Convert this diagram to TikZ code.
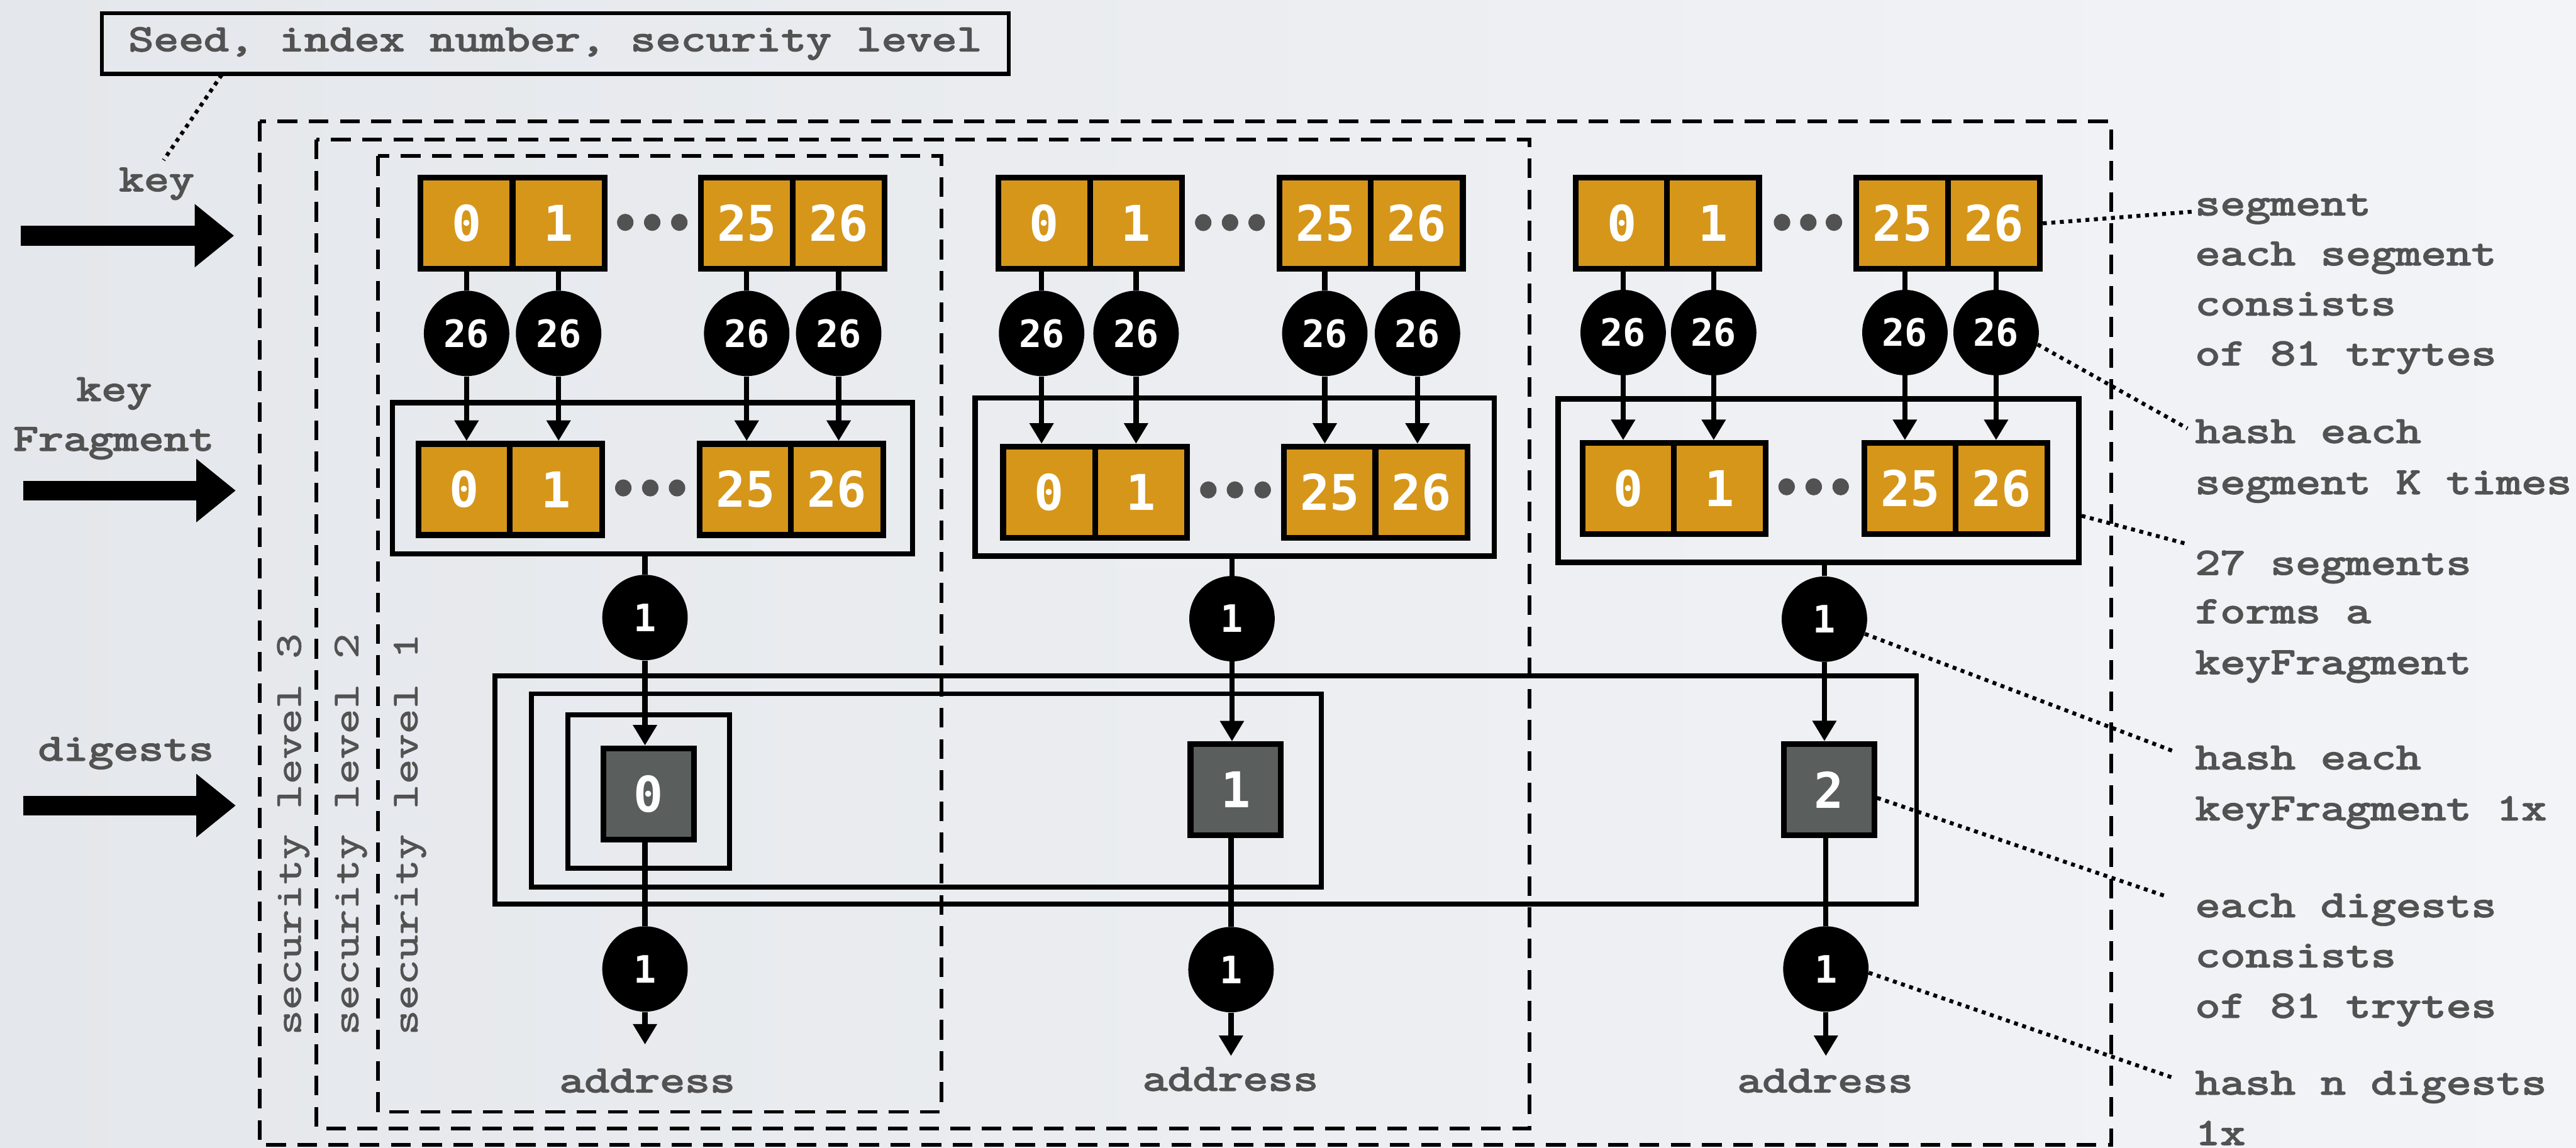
\documentclass[tikz,border=0pt]{standalone}
\usepackage{fontspec}
\usetikzlibrary{arrows.meta}
\newfontfamily\labfont[FakeStretch=1.29,FakeBold=3.4]{Latin Modern Mono}
\newfontfamily\regfont[FakeStretch=1.29,FakeBold=1.6]{Latin Modern Mono}
\newfontfamily\digfont{DejaVu Sans Mono}
\definecolor{bgL}{RGB}{228,231,235}
\definecolor{bgR}{RGB}{243,244,247}
\definecolor{segorange}{RGB}{214,150,26}
\definecolor{digray}{RGB}{90,94,92}
\definecolor{txtgray}{RGB}{82,82,82}
\tikzset{
  segbox/.style={draw=black, line width=3.5pt, fill=segorange, minimum width=56pt, minimum height=55.5pt, inner sep=0pt, text=white, font=\digfont\bfseries\fontsize{30}{30}\selectfont},
  hc/.style={circle, fill=black, minimum size=52pt, inner sep=0pt, text=white, font=\digfont\bfseries\fontsize{23}{23}\selectfont},
  conn/.style={line width=3.2pt},
  arr/.style={line width=3.2pt, -{Triangle[width=14pt,length=12.5pt]}},
  dgbox/.style={draw=black, line width=3.5pt, fill=digray, minimum width=55pt, minimum height=55.5pt, inner sep=0pt, text=white, font=\digfont\bfseries\fontsize{30}{30}\selectfont},
  kfbox/.style={draw=black, line width=3.3pt, inner sep=0pt},
  solidframe/.style={draw=black, line width=3pt},
  dashframe/.style={draw=black, line width=2.2pt, dash pattern=on 12pt off 7pt},
  leader/.style={line width=2.4pt, dash pattern=on 2.4pt off 2.8pt},
  lab/.style={text=txtgray, font=\labfont\fontsize{23}{28}\selectfont, inner sep=0pt},
  labreg/.style={text=txtgray, font=\regfont\fontsize{23}{28}\selectfont, inner sep=0pt},
  bigarrow/.style={line width=12pt, -{Triangle[width=37pt,length=24pt]}},
  dotfill/.style={fill=txtgray}
}
\begin{document}
\begin{tikzpicture}[x=1pt,y=-1pt]
\useasboundingbox (0,0) rectangle (1568,699);
\shade[left color=bgL, right color=bgR] (0,0) rectangle (1568,699);

% dashed security frames
\draw[dashframe] (158,74) rectangle (1285,697);
\draw[dashframe] (192.5,85) rectangle (931,687);
\draw[dashframe] (230,95) rectangle (573,677);

% nested digest frames
\draw[solidframe] (301.4,411.4) rectangle (1166.6,550.6);
\draw[solidframe] (323.4,422.4) rectangle (804.3,540.2);
\draw[solidframe] (345.8,435.2) rectangle (444,528.6);

% top label box
\node[lab, draw=black, line width=2.5pt, minimum width=552pt, minimum height=37pt] (sbox) at (338,26.5) {Seed, index number, security level};

% left labels and arrows
\node[lab, anchor=base] (lkey) at (95.3,116.3) {key};
\node[lab, anchor=base] (lkf1) at (69.4,244) {key};
\node[lab, anchor=base] (lkf2) at (69.2,274.3) {Fragment};
\node[lab, anchor=base] (ldig) at (76.7,463) {digests};
\coordinate (a1s) at (12.5,143.5); \coordinate (a1e) at (142.5,143.5);
\coordinate (a2s) at (14,298.7); \coordinate (a2e) at (143.5,298.7);
\coordinate (a3s) at (14,490.5); \coordinate (a3e) at (143.5,490.5);
\draw[bigarrow] (a1s) -- (a1e);
\draw[bigarrow] (a2s) -- (a2e);
\draw[bigarrow] (a3s) -- (a3e);

% vertical security labels
\node[labreg, rotate=90] (sl3) at (178.5,508) {security level 3};
\node[labreg, rotate=90] (sl2) at (213.5,508) {security level 2};
\node[labreg, rotate=90] (sl1) at (249.5,508) {security level 1};

% ---------- column 1 ----------
\node[segbox] (t1a) at (284,136) {0};
\node[segbox] (t1b) at (340,136) {1};
\node[segbox] (t1c) at (454.5,136) {25};
\node[segbox] (t1d) at (510.5,136) {26};
\foreach \xx in {380.6,397,413.5} \fill[dotfill] (\xx,135.4) ellipse (5pt and 5.2pt);
\node[hc] (h1a) at (284,203) {26};
\node[hc] (h1b) at (340,203) {26};
\node[hc] (h1c) at (454.5,203) {26};
\node[hc] (h1d) at (510.5,203) {26};
\node[kfbox, minimum width=316.6pt, minimum height=92.2pt] (kf1) at (397.2,291.2) {};
\node[segbox] (l1a) at (282.6,298) {0};
\node[segbox] (l1b) at (338.4,298) {1};
\node[segbox] (l1c) at (453.8,298) {25};
\node[segbox] (l1d) at (509.5,298) {26};
\foreach \xx in {379.4,395.8,412.1} \fill[dotfill] (\xx,297.1) ellipse (5pt and 5.2pt);
\node[hc] (u1) at (392.6,376) {1};
\node[dgbox] (dg1) at (394.8,483.4) {0};
\node[hc] (w1) at (392.6,590) {1};
\coordinate (e1) at (392.6,636);
\node[lab, anchor=base] (ad1) at (394,665) {address};

% ---------- column 2 ----------
\node[segbox] (t2a) at (635.6,136) {0};
\node[segbox] (t2b) at (691.5,136) {1};
\node[segbox] (t2c) at (806.7,136) {25};
\node[segbox] (t2d) at (862.4,136) {26};
\foreach \xx in {732.4,748.7,764.9} \fill[dotfill] (\xx,135.5) ellipse (5pt and 5.2pt);
\node[hc] (h2a) at (634,203) {26};
\node[hc] (h2b) at (691.5,203) {26};
\node[hc] (h2c) at (806.4,203) {26};
\node[hc] (h2d) at (862.8,203) {26};
\node[kfbox, minimum width=316pt, minimum height=96.4pt] (kf2) at (751.5,290.5) {};
\node[segbox] (l2a) at (638.6,299.7) {0};
\node[segbox] (l2b) at (694.5,299.7) {1};
\node[segbox] (l2c) at (809.5,299.7) {25};
\node[segbox] (l2d) at (865.2,299.7) {26};
\foreach \xx in {735.5,751.7,768.6} \fill[dotfill] (\xx,298.3) ellipse (5pt and 5.2pt);
\node[hc] (u2) at (749.9,376.7) {1};
\node[dgbox] (dg2) at (752.15,480.9) {1};
\node[hc] (w2) at (749.3,590.4) {1};
\coordinate (e2) at (749.3,643);
\node[lab, anchor=base] (ad2) at (749,664) {address};

% ---------- column 3 ----------
\node[segbox] (t3a) at (987.2,136) {0};
\node[segbox] (t3b) at (1042.7,136) {1};
\node[segbox] (t3c) at (1158,136) {25};
\node[segbox] (t3d) at (1213.7,136) {26};
\foreach \xx in {1084.7,1100.7,1116.3} \fill[dotfill] (\xx,135.4) ellipse (5pt and 5.2pt);
\node[hc] (h3a) at (988,202.5) {26};
\node[hc] (h3b) at (1043.1,202.5) {26};
\node[hc] (h3c) at (1159.5,202.5) {26};
\node[hc] (h3d) at (1215,202.5) {26};
\node[kfbox, minimum width=317pt, minimum height=99.5pt] (kf3) at (1106.9,292.65) {};
\node[segbox] (l3a) at (991.3,297.5) {0};
\node[segbox] (l3b) at (1046.8,297.5) {1};
\node[segbox] (l3c) at (1162.7,297.5) {25};
\node[segbox] (l3d) at (1218.3,297.5) {26};
\foreach \xx in {1087.5,1104,1120.4} \fill[dotfill] (\xx,296.4) ellipse (5pt and 5.2pt);
\node[hc] (u3) at (1110.5,377) {1};
\node[dgbox] (dg3) at (1113.3,480.8) {2};
\node[hc] (w3) at (1111.4,590) {1};
\coordinate (e3) at (1111.4,643);
\node[lab, anchor=base] (ad3) at (1111,665) {address};

% connectors
\foreach \c in {1,2,3}{
  \foreach \k in {a,b,c,d}{
    \draw[conn] (h\c\k |- t\c\k.south) -- (h\c\k);
    \draw[arr] (h\c\k) -- (h\c\k |- l\c\k.north);
  }
  \draw[conn] (u\c |- kf\c.south) -- (u\c);
  \draw[arr] (u\c) -- (u\c |- dg\c.north);
  \draw[conn] (w\c |- dg\c.south) -- (w\c);
  \draw[arr] (w\c) -- (e\c);
}

% right annotations
\node[lab, anchor=base west] (r1a) at (1336,131) {segment};
\node[lab, anchor=base west] (r1b) at (1336,161.4) {each segment};
\node[lab, anchor=base west] (r1c) at (1336,191.9) {consists};
\node[lab, anchor=base west] (r1d) at (1336,222.3) {of 81 trytes};
\node[lab, anchor=base west] (r2a) at (1336,269.6) {hash each};
\node[lab, anchor=base west] (r2b) at (1336,300.7) {segment K times};
\node[lab, anchor=base west] (r3a) at (1336,349.8) {27 segments};
\node[lab, anchor=base west] (r3b) at (1336,379.3) {forms a};
\node[lab, anchor=base west] (r3c) at (1336,410.3) {keyFragment};
\node[lab, anchor=base west] (r4a) at (1336,468.3) {hash each};
\node[lab, anchor=base west] (r4b) at (1336,499.3) {keyFragment 1x};
\node[lab, anchor=base west] (r5a) at (1336,558.3) {each digests};
\node[lab, anchor=base west] (r5b) at (1336,588.8) {consists};
\node[lab, anchor=base west] (r5c) at (1336,619.5) {of 81 trytes};
\node[lab, anchor=base west] (r6a) at (1336,666.3) {hash n digests};
\node[lab, anchor=base west] (r6b) at (1336,697) {1x};

% leaders
\coordinate (lkA) at (135,45.5);
\coordinate (lkB) at (99.6,97.5);
\draw[leader] (lkA) -- (lkB);
\coordinate (q1) at (1334.4,128.9);
\draw[leader] (t3d.east) -- (q1);
\coordinate (q2) at (1331.5,260.9);
\draw[leader] (h3d.-16) -- (q2);
\coordinate (q3) at (1331.5,331.3);
\draw[leader] ([yshift=-21.4pt]kf3.east) -- (q3);
\coordinate (q4) at (1324,457.8);
\draw[leader] (u3.-20) -- (q4);
\coordinate (q5) at (1318,545.6);
\draw[leader] ([yshift=-5pt]dg3.east) -- (q5);
\coordinate (q6) at (1324,656.7);
\draw[leader] (w3.-5) -- (q6);
\end{tikzpicture}
\end{document}
